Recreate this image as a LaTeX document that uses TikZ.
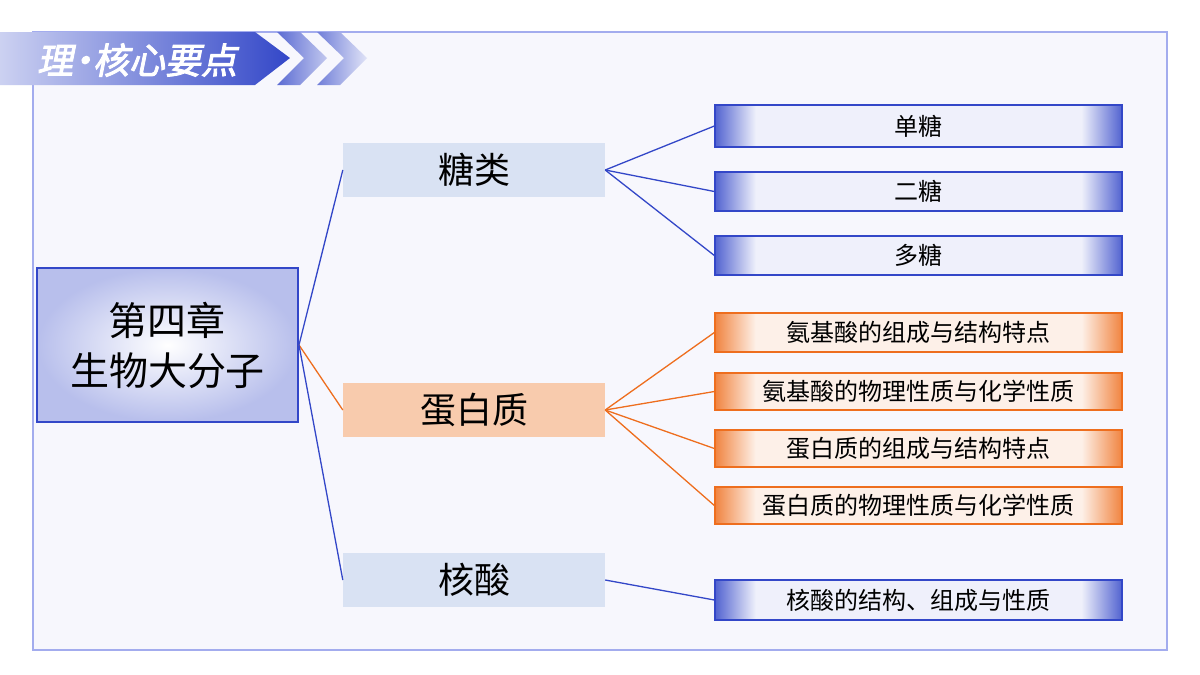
\documentclass[tikz,border=0pt]{standalone}
\usepackage{fontspec}
\setmainfont{Noto Sans CJK SC}
\newfontfamily\titlefont[FakeBold=2.5,FakeSlant=0.2]{Noto Sans CJK SC}
\usetikzlibrary{calc,shapes}
\definecolor{frameblue}{HTML}{A3ACEE}
\definecolor{deepblue}{HTML}{3347C8}
\definecolor{paleback}{HTML}{F7F7FD}
\definecolor{midblue}{HTML}{D9E2F3}
\definecolor{midorange}{HTML}{F8CBAD}
\definecolor{deeporange}{HTML}{EE6E1E}
\pgfdeclarehorizontalshading{leafbshade}{100bp}{color(0bp)=(deepblue!85); color(25bp)=(deepblue!85); color(30bp)=(deepblue!8); color(70bp)=(deepblue!8); color(75bp)=(deepblue!85); color(100bp)=(deepblue!85)}
\pgfdeclarehorizontalshading{leafoshade}{100bp}{color(0bp)=(deeporange!85); color(25bp)=(deeporange!85); color(30bp)=(deeporange!10); color(70bp)=(deeporange!10); color(75bp)=(deeporange!85); color(100bp)=(deeporange!85)}

\begin{document}
\begin{tikzpicture}[x=1pt, y=-1pt,
    midbox/.style={rectangle, minimum width=262pt, minimum height=54pt, inner sep=0pt, font=\fontsize{36}{38}\selectfont},
    bluelink/.style={draw, deepblue, line width=1.3pt},
    orangelink/.style={draw, deeporange, line width=1.3pt},
    leafblue/.style={rectangle, draw=deepblue, line width=1.3pt, minimum width=407pt, inner sep=0pt,
        shading=leafbshade, font=\fontsize{24}{26}\selectfont},
    leaforange/.style={rectangle, draw=deeporange, line width=1.3pt, minimum width=407pt, inner sep=0pt,
        shading=leafoshade, font=\fontsize{24}{26}\selectfont}]
    \useasboundingbox (0,0) rectangle (1200,675);
    \fill[white] (0,0) rectangle (1200,675);
    % frame and banner
    \draw[frameblue, line width=2pt, fill=paleback] (33,32) rectangle (1167,650);
    \shade[left color=deepblue!25, right color=deepblue] (0,32) -- (255,32) -- (290,58) -- (255,85) -- (0,85) -- cycle;
    \shade[left color=deepblue!80, right color=deepblue!30] (277,32) -- (300,32) -- (327,58) -- (300,85) -- (277,85) -- (304,58) -- cycle;
    \shade[left color=deepblue!70, right color=deepblue!15] (317,32) -- (340,32) -- (367,58) -- (340,85) -- (317,85) -- (344,58) -- cycle;
    \node [text=white, font=\titlefont\fontsize{36}{38}\selectfont] (title) at (137,60) {理{\kern-8pt}·{\kern-8pt}核心要点};
    % Place nodes
    \node [rectangle, draw=deepblue, line width=2pt, minimum width=261pt, minimum height=154pt, inner sep=0pt,
        inner color=white, outer color=deepblue!35, align=center, font=\fontsize{39}{50}\selectfont] (root) at (167.5,345) {第四章\\生物大分子};
    \node [midbox, fill=midblue] (sugar) at (474,170) {糖类};
    \node [midbox, fill=midorange] (protein) at (474,410) {蛋白质};
    \node [midbox, fill=midblue] (nucleic) at (474,580) {核酸};
    \node [leafblue, minimum height=42pt] (mono) at (918.5,126) {单糖};
    \node [leafblue, minimum height=39pt] (di) at (918.5,191.5) {二糖};
    \node [leafblue, minimum height=39pt] (poly) at (918.5,255.5) {多糖};
    \node [leaforange, minimum height=39pt] (aa1) at (918.5,332.5) {氨基酸的组成与结构特点};
    \node [leaforange, minimum height=37pt] (aa2) at (918.5,391.5) {氨基酸的物理性质与化学性质};
    \node [leaforange, minimum height=37pt] (pr1) at (918.5,448.5) {蛋白质的组成与结构特点};
    \node [leaforange, minimum height=37pt] (pr2) at (918.5,505.5) {蛋白质的物理性质与化学性质};
    \node [leafblue, minimum height=40pt] (na1) at (918.5,600) {核酸的结构、组成与性质};
    \path[bluelink] (root.east) -- (sugar.west);
    \path[orangelink] (root.east) -- (protein.west);
    \path[bluelink] (root.east) -- (nucleic.west);
    \path[bluelink] (sugar.east) -- (mono.west);
    \path[bluelink] (sugar.east) -- (di.west);
    \path[bluelink] (sugar.east) -- (poly.west);
    \path[orangelink] (protein.east) -- (aa1.west);
    \path[orangelink] (protein.east) -- (aa2.west);
    \path[orangelink] (protein.east) -- (pr1.west);
    \path[orangelink] (protein.east) -- (pr2.west);
    \path[bluelink] (nucleic.east) -- (na1.west);
\end{tikzpicture}
\end{document}
